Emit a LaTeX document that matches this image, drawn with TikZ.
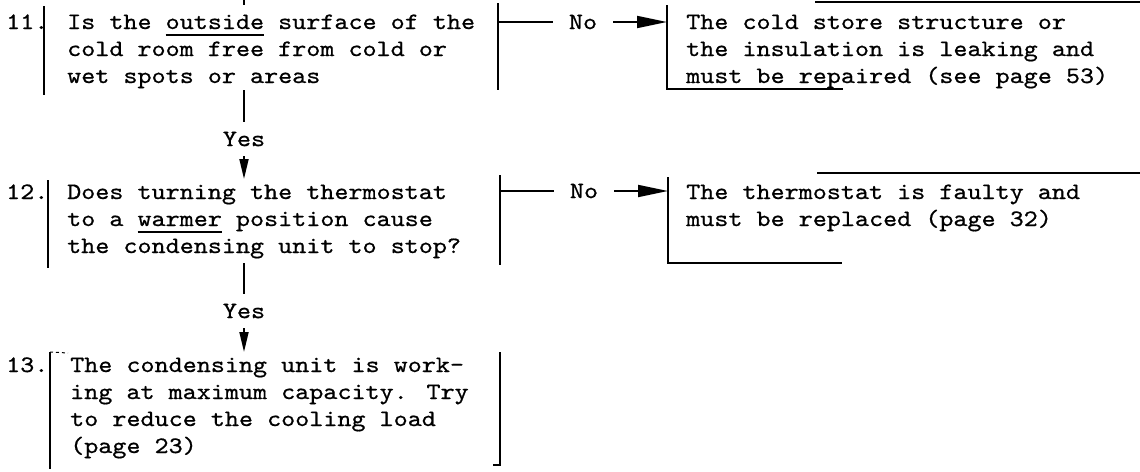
\documentclass[tikz,border=0pt]{standalone}
\usepackage{fontspec}
\newfontfamily\typewriter[FakeStretch=1.14,FakeBold=0.7]{lmmono10-regular.otf}
\usetikzlibrary{arrows.meta}
% typewriter-style underline, set well below the baseline
\newcommand\typeul[1]{\setbox0\hbox{#1}\rlap{\rule[-7pt]{\wd0}{1.6pt}}\box0\relax}
\tikzset{
  txt/.style={anchor=base west, inner sep=0pt,
    font=\typewriter\fontsize{23.5}{27}\selectfont},
  lbl/.style={inner ysep=10pt, inner xsep=16pt,
    font=\typewriter\fontsize{23.5}{27}\selectfont},
  side/.style={line width=2.2pt},
  rim/.style={line width=1.8pt},
  conn/.style={line width=1.8pt},
  harrow/.style={conn, -{Triangle[length=30pt,width=12pt]}},
  varrow/.style={conn, -{Triangle[length=20pt,width=9pt]}},
}
\begin{document}
\begin{tikzpicture}[x=1pt,y=-1pt]
\useasboundingbox (0,0) rectangle (1140,471);

% ---------- step 11 ----------
\coordinate (in11) at (244,0);
\coordinate (in11b) at (244,5);
\draw[conn] (in11) -- (in11b);
\node[txt] (n11) at (6,29) {11.};
\node[txt] (q11a) at (67,29) {Is the \typeul{outside} surface of the};
\node[txt] (q11b) at (67,56) {cold room free from cold or};
\node[txt] (q11c) at (67,83) {wet spots or areas};
\coordinate (l11t) at (44,6);   \coordinate (l11b) at (44,95);
\coordinate (r11t) at (498,3);  \coordinate (r11b) at (498,90);
\draw[side] (l11t) -- (l11b);
\draw[side] (r11t) -- (r11b);

% answer box for step 11
\coordinate (a11t) at (667,5);  \coordinate (a11b) at (667,89);
\coordinate (a11e) at (843,89);
\coordinate (a11s) at (815,2);  \coordinate (a11x) at (1140,2);
\draw[rim] (a11t) -- (a11b) -- (a11e);
\draw[rim] (a11s) -- (a11x);
\node[txt] (r11a) at (686,29) {The cold store structure or};
\node[txt] (r11b2) at (686,56) {the insulation is leaking and};
\node[txt] (r11c) at (686,83) {must be repaired (see page 53)};

% "No" branch of step 11
\coordinate (b11) at (498,22);
\coordinate (a11) at (667,22);
\node[lbl] (no1) at (583,22) {No};
\draw[conn] (b11) -- (no1);
\draw[harrow] (no1) -- (a11);

% "Yes" branch of step 11
\coordinate (s11) at (244,90);
\coordinate (t12) at (244,179);
\node[lbl] (yes1) at (244,139) {Yes};
\draw[conn] (s11) -- (yes1);
\draw[varrow] (yes1) -- (t12);

% ---------- step 12 ----------
\node[txt] (n12) at (6,199) {12.};
\node[txt] (q12a) at (67,199) {Does turning the thermostat};
\node[txt] (q12b) at (67,226) {to a \typeul{warmer} position cause};
\node[txt] (q12c) at (67,253) {the condensing unit to stop?};
\coordinate (l12t) at (48,180);  \coordinate (l12b) at (48,268);
\coordinate (r12t) at (500,175); \coordinate (r12b) at (500,265);
\draw[side] (l12t) -- (l12b);
\draw[side] (r12t) -- (r12b);

% answer box for step 12
\coordinate (a12t) at (668,177); \coordinate (a12b) at (668,263);
\coordinate (a12e) at (842,263);
\coordinate (a12s) at (817,173); \coordinate (a12x) at (1140,173);
\draw[rim] (a12t) -- (a12b) -- (a12e);
\draw[rim] (a12s) -- (a12x);
\node[txt] (r12a) at (686,199) {The thermostat is faulty and};
\node[txt] (r12b2) at (686,226) {must be replaced (page 32)};

% "No" branch of step 12
\coordinate (b12) at (500,191);
\coordinate (a12) at (668,191);
\node[lbl] (no2) at (584,191) {No};
\draw[conn] (b12) -- (no2);
\draw[harrow] (no2) -- (a12);

% "Yes" branch of step 12
\coordinate (s12) at (244,263);
\coordinate (t13) at (244,352);
\node[lbl] (yes2) at (244,311) {Yes};
\draw[conn] (s12) -- (yes2);
\draw[varrow] (yes2) -- (t13);

% ---------- step 13 ----------
\node[txt] (n13) at (6,372) {13.};
\node[txt] (q13a) at (70,372) {The condensing unit is work-};
\node[txt] (q13b) at (70,399) {ing at maximum capacity. Try};
\node[txt] (q13c) at (70,426) {to reduce the cooling load};
\node[txt] (q13d) at (70,453) {(page 23)};
\coordinate (l13t) at (50,352);  \coordinate (l13b) at (50,469);
\coordinate (l13k) at (68,353);
\coordinate (r13t) at (500,352); \coordinate (r13b) at (500,465);
\coordinate (r13k) at (493,465);
\draw[side] (l13t) -- (l13b);
\draw[line width=1pt, dashed] (l13t) -- (l13k);
\draw[side] (r13t) -- (r13b) -- (r13k);
\end{tikzpicture}
\end{document}
